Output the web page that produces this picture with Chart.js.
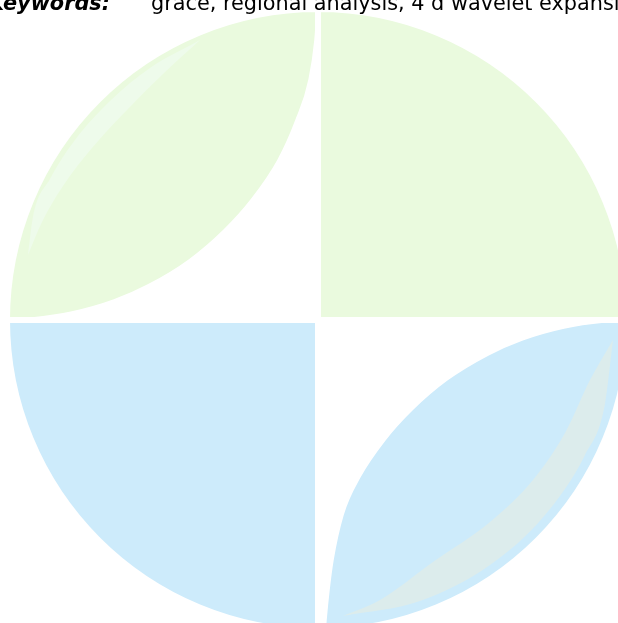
<!DOCTYPE html>
<html>
<head>
<meta charset="utf-8">
<script src="https://cdn.jsdelivr.net/npm/chart.js@4.4.1/dist/chart.umd.min.js"></script>
<style>
    html, body {
        margin: 0;
        padding: 0;
        width: 618px;
        height: 623px;
        overflow: hidden;
        background: #ffffff;
    }
    #pieChart, #shapeChart {
        position: absolute;
    }
    #pieChart { left: 4px; top: 6px; }
    #shapeChart { left: 0; top: 0; }
    .kw {
        position: absolute;
        top: -7px;
        font-family: "DejaVu Sans", sans-serif;
        font-size: 20.8px;
        line-height: 1;
        color: #000000;
        white-space: nowrap;
    }
    .kw-label {
        left: -12px;
        font-weight: bold;
        font-style: italic;
    }
    .kw-text { left: 151px; }
</style>
</head>
<body>
<canvas id="pieChart" width="628" height="628"></canvas>
<canvas id="shapeChart" width="618" height="623"></canvas>
<div class="kw kw-label">Keywords:</div>
<div class="kw kw-text">grace, regional analysis, 4 d wavelet expansion</div>

<script>
// quarters, clockwise from 12 o'clock: top-right, bottom-right, bottom-left, top-left
const quarterLabels = ["top right", "bottom right", "bottom left", "top left"];
const quarterValues = [1, 1, 1, 1];
const quarterColors = ["#eafade", "#cdebfb", "#cdebfb", "#eafade"];

// inner edge of the top-left leaf (page pixels)
const tlEdgeX = [11, 32, 72, 114, 148, 189, 224, 251, 278, 296, 309, 315, 317];
const tlEdgeY = [319, 318, 312, 300, 285, 260, 230, 200, 160, 120, 80, 40, 12];

// inner edge of the bottom-right leaf
const brEdgeX = [320, 326, 329, 333, 343, 360, 385, 412, 447, 488, 522, 564, 604, 625];
const brEdgeY = [700, 620, 590, 560, 515, 477, 440, 410, 380, 355, 340, 328, 322, 321];

// pale band along the top-left leaf
const tlBandOuterX = [28, 33, 50, 75, 110, 150, 200];
const tlBandOuterY = [255, 217, 179, 140, 101, 68, 40];
const tlBandInnerX = [28, 42, 63, 92, 127, 163, 200];
const tlBandInnerY = [255, 222, 186, 148, 110, 74, 40];

// grey band along the bottom-right leaf
const brBandOuterX = [343, 420, 490, 545, 585, 605, 613];
const brBandOuterY = [616, 601, 565, 515, 455, 404, 340];
const brBandInnerX = [343, 380, 433, 490, 533, 565, 590, 613];
const brBandInnerY = [616, 600, 562, 522, 480, 433, 380, 340];

const CENTER_Y = 320;

function toPoints(xs, ys) {
    return xs.map((x, i) => ({ x, y: ys[i] }));
}

function band(xs, ys, color, fill) {
    return {
        data: toPoints(xs, ys),
        showLine: true,
        borderWidth: 0,
        borderColor: "rgba(0,0,0,0)",
        backgroundColor: color,
        fill
    };
}

function cutout(xs, ys) {
    return {
        data: toPoints(xs, ys),
        showLine: true,
        borderWidth: 1.5,
        borderColor: "#ffffff",
        backgroundColor: "#ffffff",
        fill: { value: CENTER_Y }
    };
}

new Chart(document.getElementById("pieChart"), {
    type: "pie",
    data: {
        labels: quarterLabels,
        datasets: [{
            data: quarterValues,
            backgroundColor: quarterColors,
            borderColor: "#ffffff",
            borderWidth: 6
        }]
    },
    options: {
        responsive: false,
        animation: false,
        events: [],
        layout: { padding: 0 },
        plugins: {
            legend: { display: false },
            tooltip: { enabled: false }
        }
    }
});

new Chart(document.getElementById("shapeChart"), {
    type: "scatter",
    data: {
        datasets: [
            band(tlBandOuterX, tlBandOuterY, "#eefbeb", "+1"),
            band(tlBandInnerX, tlBandInnerY, "rgba(0,0,0,0)", false),
            band(brBandOuterX, brBandOuterY, "#dcecec", "+1"),
            band(brBandInnerX, brBandInnerY, "rgba(0,0,0,0)", false),
            cutout(tlEdgeX, tlEdgeY),
            cutout(brEdgeX, brEdgeY)
        ]
    },
    options: {
        responsive: false,
        animation: false,
        events: [],
        layout: { padding: 0 },
        elements: {
            point: { radius: 0 },
            line: { tension: 0.4, cubicInterpolationMode: "monotone" }
        },
        plugins: {
            legend: { display: false },
            tooltip: { enabled: false }
        },
        scales: {
            x: { type: "linear", min: 0, max: 618, display: false },
            y: { type: "linear", min: 0, max: 623, reverse: true, display: false }
        }
    }
});
</script>
</body>
</html>
